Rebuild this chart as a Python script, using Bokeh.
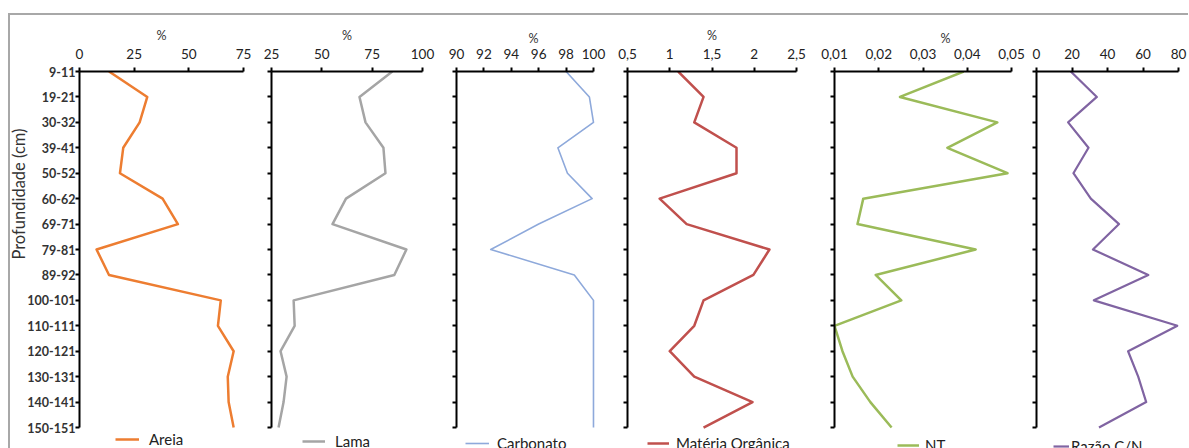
from bokeh.plotting import figure
from bokeh.layouts import row, column
from bokeh.models import (Range1d, FixedTicker, Legend, LegendItem, Title, Spacer)
from bokeh.embed import file_html
from bokeh.resources import INLINE

# ---------------- data ----------------
profundidade = ["9-11", "19-21", "30-32", "39-41", "50-52", "60-62", "69-71", "79-81",
                "89-92", "100-101", "110-111", "120-121", "130-131", "140-141", "150-151"]

areia = [13.5, 31.0, 27.5, 20.0, 18.5, 38.0, 45.0, 7.8, 13.5, 64.6, 63.3, 70.5, 67.8, 68.2, 70.5]
lama = [85.0, 68.7, 71.7, 80.6, 81.6, 62.0, 55.3, 92.0, 86.0, 36.0, 36.5, 29.5, 32.5, 31.0, 28.5]
carbonato = [98.0, 99.7, 100.0, 97.4, 98.1, 99.9, 96.0, 92.5, 98.6, 100.0, 100.0, 100.0, 100.0, 100.0, 100.0]
materia_organica = [1.10, 1.40, 1.29, 1.79, 1.79, 0.88, 1.20, 2.18, 1.99, 1.40, 1.29, 1.00, 1.29, 1.98, 1.40]
nt = [0.0392, 0.0248, 0.0468, 0.0355, 0.0491, 0.0165, 0.0152, 0.0419, 0.0193, 0.0251,
      0.0100, 0.0118, 0.0141, 0.0181, 0.0229]
razao_cn = [19.3, 34.0, 17.8, 29.3, 20.8, 30.6, 46.5, 31.8, 63.0, 32.3, 79.4, 51.6, 57.3, 61.8, 35.2]

ticks_areia = [0, 25, 50, 75]
labels_areia = ["0", "25", "50", "75"]
ticks_lama = [25, 50, 75, 100]
labels_lama = ["25", "50", "75", "100"]
ticks_carb = [90, 92, 94, 96, 98, 100]
labels_carb = ["90", "92", "94", "96", "98", "100"]
ticks_mo = [0.5, 1.0, 1.5, 2.0, 2.5]
labels_mo = ["0,5", "1", "1,5", "2", "2,5"]
ticks_nt = [0.01, 0.02, 0.03, 0.04, 0.05]
labels_nt = ["0,01", "0,02", "0,03", "0,04", "0,05"]
ticks_cn = [0, 20, 40, 60, 80]
labels_cn = ["0", "20", "40", "60", "80"]

# ---------------- layout ----------------
H = 433                     # figure height (page y 15 .. 448)
TOP = 56                    # frame top at page y 71
ROW_PX = 25.43              # pixel distance between depth rows
N = len(profundidade)
EXTRA = (H - TOP - (N - 1) * ROW_PX) / ROW_PX   # frame continues below last row for legend
FONT = "Lato"
ypos = list(range(N))


def make_panel(values, width, left, right, lo, hi, ticks, labels, color, lw, name,
               unit_offset, legend_x, legend_cy, legend_glyph_w, legend_standoff,
               show_y_labels, hi_pad=0.0):
    p = figure(width=width, height=H,
               x_range=Range1d(lo, hi + hi_pad), y_range=Range1d(N - 1 + EXTRA, 0),
               x_axis_location="above", toolbar_location=None, output_backend="svg",
               min_border_left=left, min_border_right=right,
               min_border_top=TOP, min_border_bottom=0,
               outline_line_color=None, border_fill_color="white",
               background_fill_color="white")
    p.xgrid.visible = False
    p.ygrid.visible = False

    xa = p.xaxis[0]
    xa.ticker = FixedTicker(ticks=ticks)
    xa.major_label_overrides = {t: l for t, l in zip(ticks, labels)}
    xa.bounds = (lo, hi)
    xa.axis_line_width = 2
    xa.axis_line_color = "black"
    xa.major_tick_line_width = 2
    xa.major_tick_line_color = "black"
    xa.major_tick_in = 0
    xa.major_tick_out = 4
    xa.minor_tick_line_color = None
    xa.major_label_standoff = 9
    xa.major_label_text_font = FONT
    xa.major_label_text_font_size = "13.5px"
    xa.major_label_text_color = "#222222"
    if unit_offset == "center":
        xa.axis_label = "%"
        xa.axis_label_text_font = FONT
        xa.axis_label_text_font_style = "normal"
        xa.axis_label_text_font_size = "12.5px"
        xa.axis_label_text_color = "#333333"
        xa.axis_label_standoff = 3
    elif unit_offset is not None:
        p.add_layout(Title(text="%", align="left", offset=unit_offset, standoff=0,
                           vertical_align="bottom", text_font=FONT,
                           text_font_size="12.5px", text_font_style="normal",
                           text_color="#333333"), "above")

    ya = p.yaxis[0]
    ya.ticker = FixedTicker(ticks=ypos)
    ya.bounds = (0, N - 1)
    ya.axis_line_width = 2
    ya.axis_line_color = "black"
    ya.major_tick_line_width = 2
    ya.major_tick_line_color = "black"
    ya.major_tick_in = 0
    ya.major_tick_out = 4
    ya.minor_tick_line_color = None
    if show_y_labels:
        ya.major_label_overrides = {i: lab for i, lab in enumerate(profundidade)}
        ya.major_label_standoff = 0
        ya.major_label_text_font = FONT
        ya.major_label_text_font_style = "bold"
        ya.major_label_text_font_size = "12.5px"
        ya.major_label_text_color = "#333333"
    else:
        ya.major_label_overrides = {i: "" for i in ypos}
        ya.major_label_standoff = 0
        ya.major_label_text_font_size = "0px"

    r = p.line(values, ypos, line_color=color, line_width=lw, line_join="round")

    box_h = 20
    legend = Legend(items=[LegendItem(label=name, renderers=[r])],
                    location=(legend_x, (448 - legend_cy) - box_h / 2),
                    padding=0, margin=0, spacing=0,
                    glyph_width=legend_glyph_w, glyph_height=box_h, label_height=box_h,
                    label_standoff=legend_standoff,
                    label_text_font=FONT, label_text_font_size="15px",
                    label_text_color="#222222",
                    border_line_alpha=0, background_fill_alpha=0)
    p.add_layout(legend)
    return p


p1 = make_panel(areia, 247, 67, 14, 0, 75, ticks_areia, labels_areia, "#ED7D31", 2.5,
                "Areia", "center", 36, 439, 24, 10, True)
p1.add_layout(Title(text="Profundidade (cm)", align="right", offset=57, standoff=-8,
                    text_font=FONT, text_font_size="16.5px", text_font_style="normal",
                    text_color="#333333"), "left")
p2 = make_panel(lama, 184, 14, 19, 25, 100, ticks_lama, labels_lama, "#A5A5A5", 2.5,
                "Lama", "center", 31, 441, 23, 10, False)
p3 = make_panel(carbonato, 169, 15, 14, 90, 100, ticks_carb, labels_carb, "#8EA9DB", 1.6,
                "Carbonato", 72, 9, 443, 24, 8, False, hi_pad=0.22)
p4 = make_panel(materia_organica, 203, 17, 17, 0.5, 2.5, ticks_mo, labels_mo, "#C0504D", 2.5,
                "Matéria Orgânica", "center", 20, 443, 22, 7, False)
p5 = make_panel(nt, 215, 21, 17, 0.01, 0.05, ticks_nt, labels_nt, "#9BBB59", 2.5,
                "NT", 106, 63, 445, 22, 6, False)
p6 = make_panel(razao_cn, 160, 8, 10, 0, 80, ticks_cn, labels_cn, "#8064A2", 2.2,
                "Razão C/N", None, 17, 446, 16, 2, False)

panels = row(p1, p2, p3, p4, p5, p6,
             styles={"border-top": "2px solid #a8a8a8", "border-left": "2px solid #a8a8a8"})
layout = column(Spacer(height=13), row(Spacer(width=8), panels))

open("out.html", "w").write(file_html(layout, INLINE))
